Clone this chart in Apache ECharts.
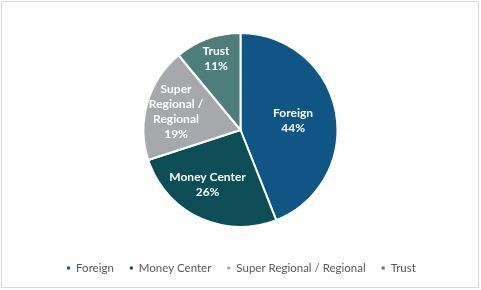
<!DOCTYPE html>
<html>
<head>
<meta charset="utf-8">
<script src="https://cdn.jsdelivr.net/npm/echarts@6/dist/echarts.min.js"></script>
<style>
html,body{margin:0;padding:0;background:#fff;}
#c{width:481px;height:290px;}
</style>
</head>
<body>
<div id="c"></div>
<script>
const categories = ['Foreign', 'Money Center', 'Super Regional / Regional', 'Trust'];
const sliceLabels = ['Foreign', 'Money Center', 'Super\nRegional /\nRegional', 'Trust'];
const values = [44, 26, 19, 11];

const colors = ['#0f5687', '#0c4d56', '#a6a8ac', '#4e7e7c'];
const labelNudge = [[2, 0], [-11, 8], [-15, -4], [-7, -23]];

const chart = echarts.init(document.getElementById('c'), null, {renderer: 'canvas'});
const fontFam = 'Lato, "Open Sans", sans-serif';

chart.setOption({
  animation: false,
  color: colors,
  graphic: [{
    type: 'rect',
    shape: {x: 1.5, y: 1.5, width: 477, height: 286},
    style: {fill: 'none', stroke: '#d9d9d9', lineWidth: 1}
  }],
  legend: {
    data: categories,
    bottom: 11,
    left: 'center',
    icon: 'rect',
    itemWidth: 5,
    itemHeight: 5,
    itemGap: 14,
    textStyle: {color: '#595959', fontSize: 11.5, fontFamily: fontFam}
  },
  series: [{
    type: 'pie',
    center: [240.5, 130],
    radius: 97,
    startAngle: 90,
    clockwise: true,
    avoidLabelOverlap: false,
    itemStyle: {borderColor: '#ffffff', borderWidth: 2},
    label: {
      show: true,
      position: 'inside',
      color: '#ffffff',
      fontSize: 12,
      fontWeight: 'bold',
      fontFamily: fontFam,
      lineHeight: 15,
      align: 'center',
      formatter: function (p) {
        return sliceLabels[p.dataIndex] + '\n' + p.value + '%';
      }
    },
    labelLine: {show: false},
    labelLayout: function (p) {
      const n = labelNudge[p.dataIndex];
      return {dx: n[0], dy: n[1]};
    },
    emphasis: {disabled: true},
    data: categories.map(function (c, i) { return {name: c, value: values[i]}; })
  }]
});
</script>
</body>
</html>
